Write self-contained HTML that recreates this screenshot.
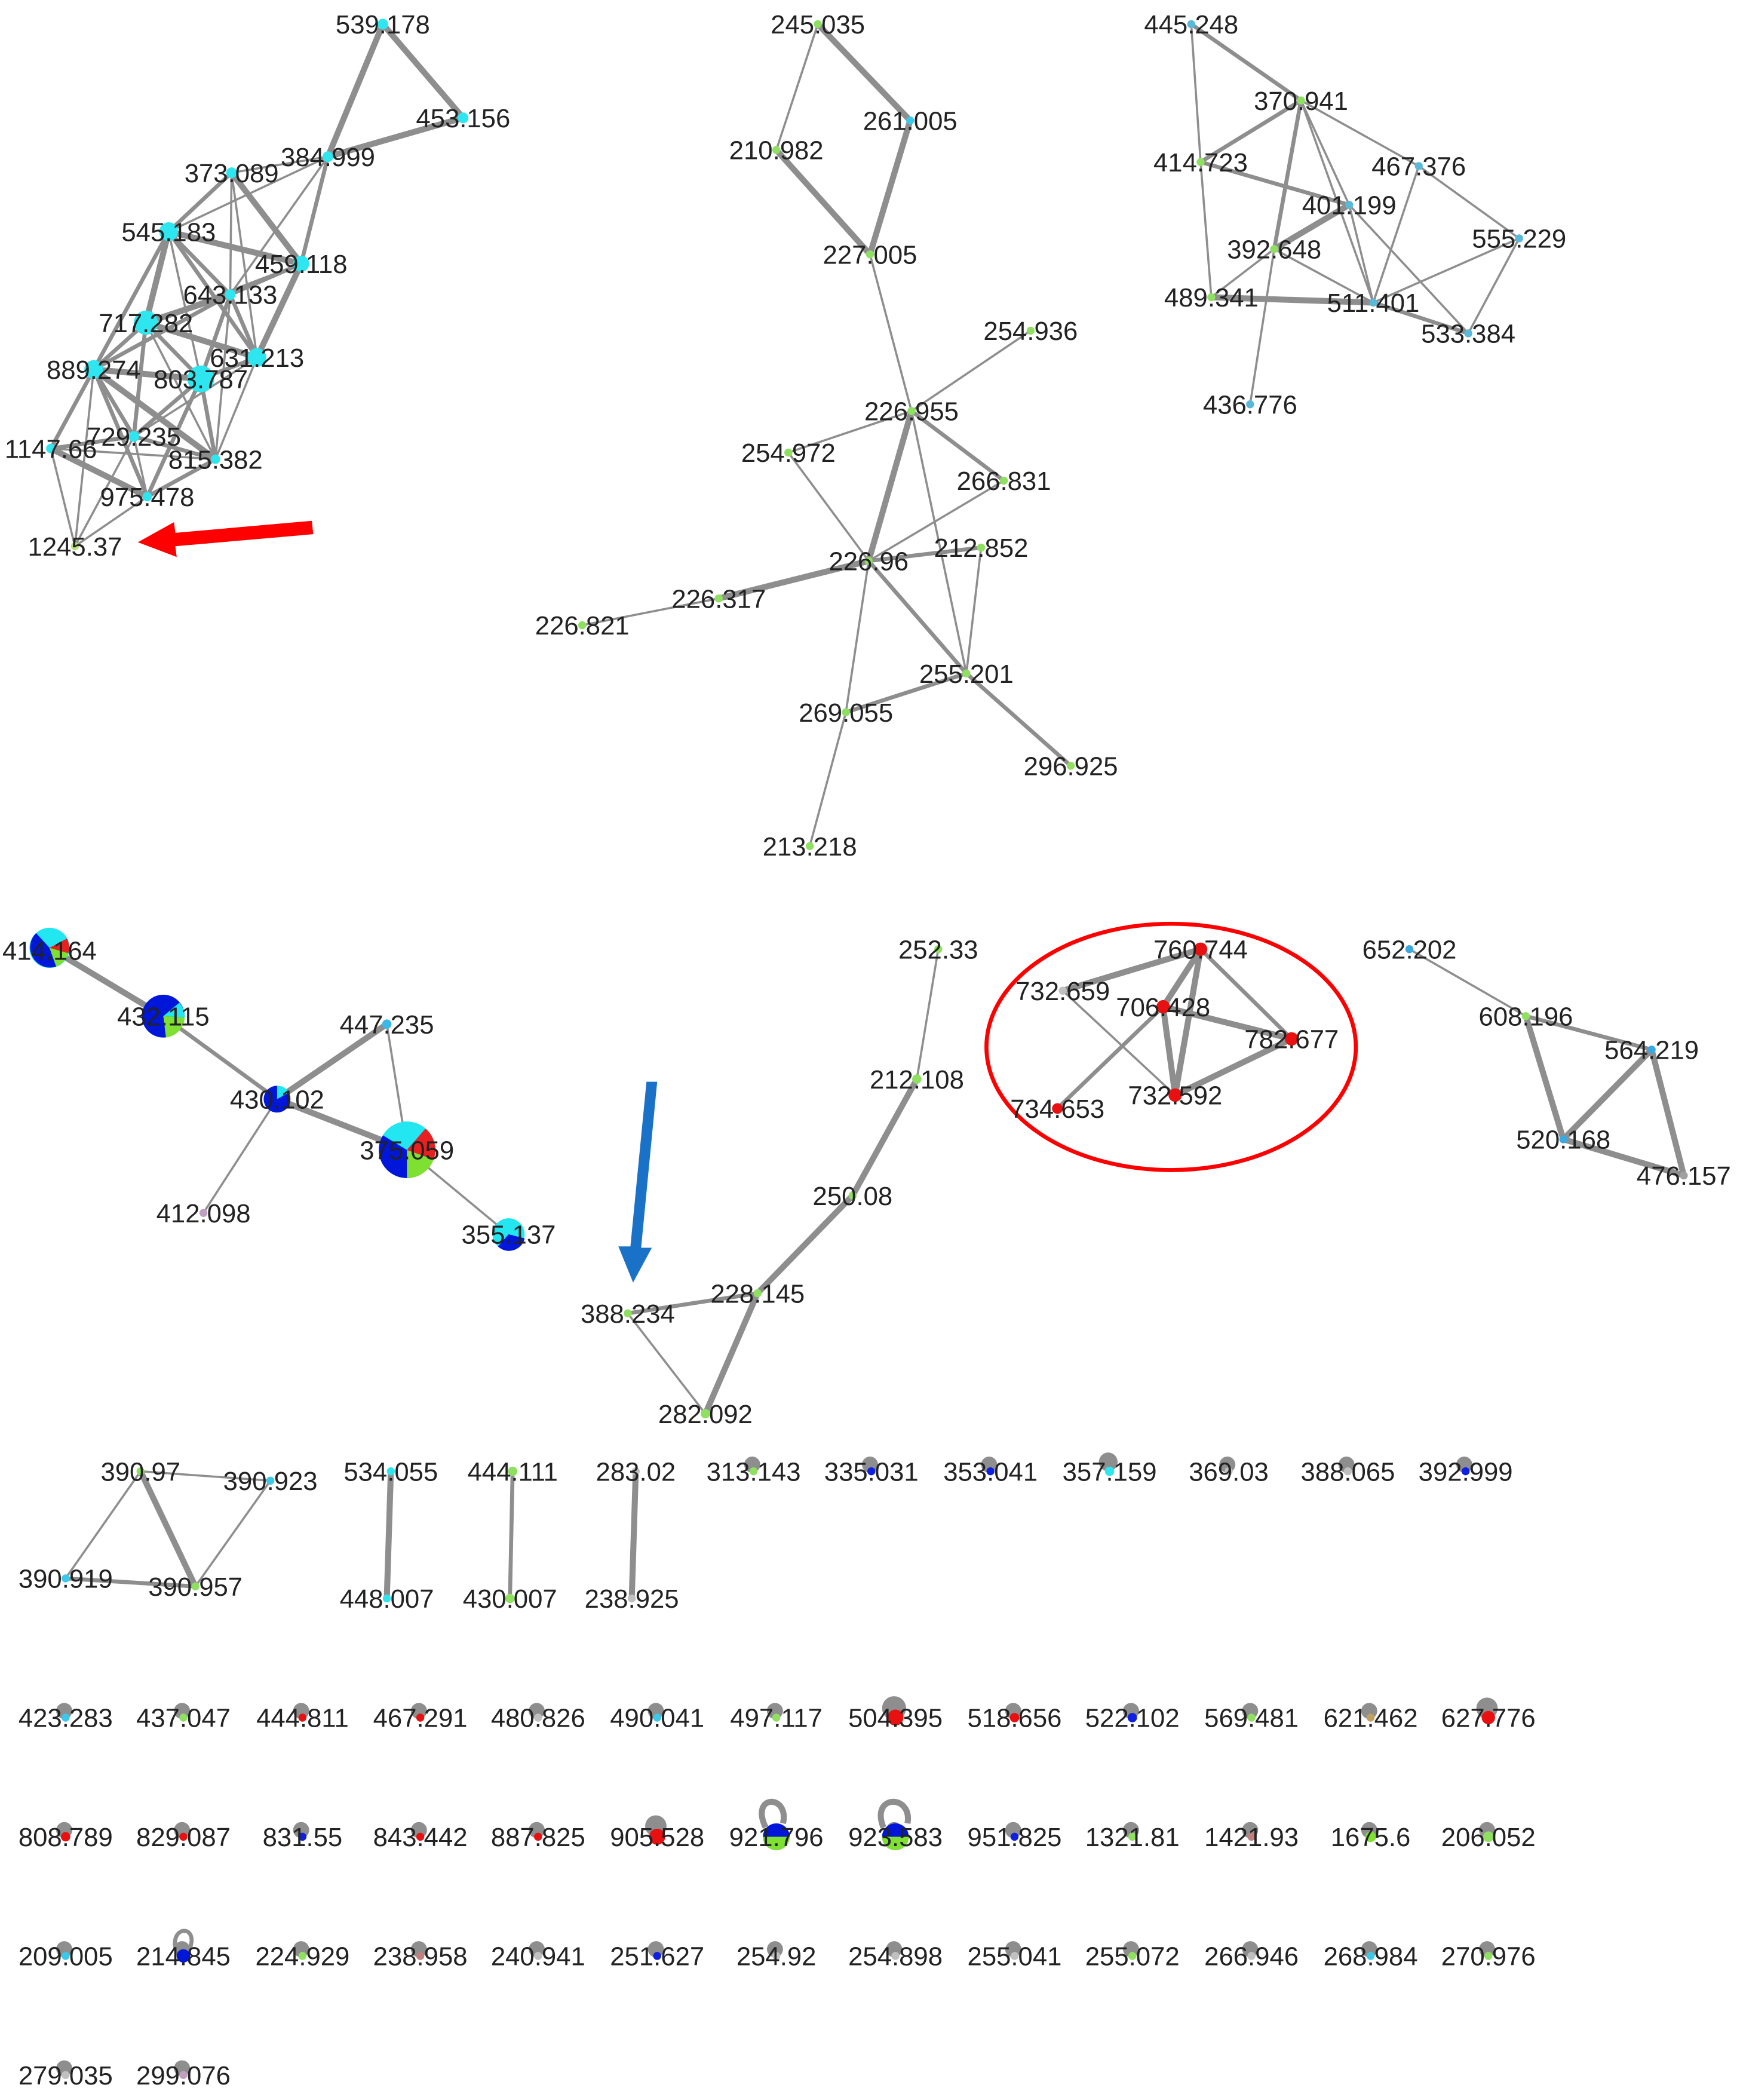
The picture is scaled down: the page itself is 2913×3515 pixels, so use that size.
<!DOCTYPE html>
<html><head><meta charset="utf-8"><style>
html,body{margin:0;padding:0;background:#fff;}
svg{display:block}
text{font-family:"Liberation Sans",Arial,sans-serif;font-size:19.5px;fill:#222;text-anchor:middle}
.e{stroke:#8e8e8e;stroke-width:1.6;fill:none}
.t{stroke:#8e8e8e;stroke-width:4.5;fill:none}
.m{stroke:#8e8e8e;stroke-width:3;fill:none}
.l{fill:#8e8e8e}
</style></head><body>
<svg width="2913" height="3515" viewBox="0 0 1300 1568.6" xmlns="http://www.w3.org/2000/svg">
<!-- cluster 1 edges -->
<g>
<line class="t" x1="286" y1="18" x2="346" y2="88"/><line class="t" x1="286" y1="18" x2="245" y2="117"/><line class="t" x1="346" y1="88" x2="245" y2="117"/>
<line class="e" x1="245" y1="117" x2="173" y2="129"/><line class="m" x1="245" y1="117" x2="225" y2="197"/><line class="e" x1="245" y1="117" x2="172" y2="220"/><line class="e" x1="245" y1="117" x2="126" y2="173"/>
<line class="m" x1="173" y1="129" x2="126" y2="173"/><line class="t" x1="173" y1="129" x2="225" y2="197"/><line class="e" x1="173" y1="129" x2="172" y2="220"/><line class="e" x1="173" y1="129" x2="192" y2="267"/>
<line class="t" x1="126" y1="173" x2="225" y2="197"/><line class="m" x1="126" y1="173" x2="172" y2="220"/><line class="t" x1="126" y1="173" x2="109" y2="241"/><line class="m" x1="126" y1="173" x2="70" y2="276"/><line class="e" x1="126" y1="173" x2="150" y2="283"/><line class="m" x1="126" y1="173" x2="192" y2="267"/>
<line class="m" x1="225" y1="197" x2="172" y2="220"/><line class="t" x1="225" y1="197" x2="192" y2="267"/><line class="e" x1="225" y1="197" x2="109" y2="241"/>
<line class="t" x1="172" y1="220" x2="109" y2="241"/><line class="m" x1="172" y1="220" x2="70" y2="276"/><line class="m" x1="172" y1="220" x2="150" y2="283"/><line class="m" x1="172" y1="220" x2="192" y2="267"/><line class="e" x1="172" y1="220" x2="161" y2="343"/>
<line class="m" x1="109" y1="241" x2="70" y2="276"/><line class="m" x1="109" y1="241" x2="150" y2="283"/><line class="m" x1="109" y1="241" x2="100" y2="326"/><line class="t" x1="109" y1="241" x2="192" y2="267"/><line class="e" x1="109" y1="241" x2="161" y2="343"/>
<line class="t" x1="70" y1="276" x2="150" y2="283"/><line class="m" x1="70" y1="276" x2="100" y2="326"/><line class="m" x1="70" y1="276" x2="38" y2="335"/><line class="t" x1="70" y1="276" x2="161" y2="343"/><line class="m" x1="70" y1="276" x2="110" y2="371"/>
<line class="m" x1="150" y1="283" x2="192" y2="267"/><line class="m" x1="150" y1="283" x2="100" y2="326"/><line class="m" x1="150" y1="283" x2="161" y2="343"/><line class="m" x1="150" y1="283" x2="110" y2="371"/>
<line class="e" x1="192" y1="267" x2="161" y2="343"/><line class="e" x1="192" y1="267" x2="100" y2="326"/>
<line class="m" x1="100" y1="326" x2="38" y2="335"/><line class="m" x1="100" y1="326" x2="161" y2="343"/><line class="e" x1="100" y1="326" x2="110" y2="371"/>
<line class="e" x1="38" y1="335" x2="161" y2="343"/><line class="t" x1="38" y1="335" x2="110" y2="371"/><line class="e" x1="38" y1="335" x2="56" y2="408"/>
<line class="m" x1="161" y1="343" x2="110" y2="371"/><line class="e" x1="110" y1="371" x2="56" y2="408"/><line class="e" x1="100" y1="326" x2="56" y2="408"/><line class="e" x1="70" y1="276" x2="56" y2="408"/>
</g>
<g fill="#2ee6f0">
<circle cx="286" cy="18" r="4"/><circle cx="346" cy="88" r="4"/><circle cx="245" cy="117" r="4"/><circle cx="173" cy="129" r="4"/><circle cx="126" cy="173" r="7"/><circle cx="225" cy="197" r="6"/><circle cx="172" cy="220" r="4"/><circle cx="109" cy="241" r="9"/><circle cx="192" cy="267" r="7"/><circle cx="70" cy="276" r="7"/><circle cx="150" cy="283" r="10"/><circle cx="100" cy="326" r="4"/><circle cx="38" cy="335" r="3.5"/><circle cx="161" cy="343" r="3.5"/><circle cx="110" cy="371" r="3.5"/>
</g><circle cx="56" cy="408" r="3" fill="#b8e080"/>
<text x="286" y="25">539.178</text><text x="346" y="95">453.156</text><text x="245" y="124">384.999</text><text x="173" y="136">373.089</text><text x="126" y="180">545.183</text><text x="225" y="204">459.118</text><text x="172" y="227">643.133</text><text x="109" y="248">717.282</text><text x="192" y="274">631.213</text><text x="70" y="283">889.274</text><text x="150" y="290">803.787</text><text x="100" y="333">729.235</text><text x="38" y="342">1147.66</text><text x="161" y="350">815.382</text><text x="110" y="378">975.478</text><text x="56" y="415">1245.37</text>
<polygon points="233,389 131,398 130,390 103,405 132,416 131,408 234,399" fill="#f00"/>

<!-- cluster 2 -->
<g>
<line class="t" x1="611" y1="18" x2="680" y2="90"/><line class="e" x1="611" y1="18" x2="580" y2="112"/><line class="t" x1="580" y1="112" x2="650" y2="190"/><line class="t" x1="680" y1="90" x2="650" y2="190"/>
<line class="e" x1="650" y1="190" x2="681" y2="307"/><line class="e" x1="681" y1="307" x2="770" y2="247"/><line class="e" x1="681" y1="307" x2="589" y2="338"/><line class="m" x1="681" y1="307" x2="750" y2="359"/><line class="t" x1="681" y1="307" x2="649" y2="419"/><line class="e" x1="681" y1="307" x2="722" y2="503"/>
<line class="e" x1="589" y1="338" x2="649" y2="419"/><line class="e" x1="750" y1="359" x2="649" y2="419"/><line class="m" x1="649" y1="419" x2="733" y2="409"/><line class="e" x1="733" y1="409" x2="722" y2="503"/><line class="t" x1="649" y1="419" x2="537" y2="447"/><line class="e" x1="537" y1="447" x2="435" y2="467"/><line class="e" x1="649" y1="419" x2="632" y2="532"/><line class="m" x1="649" y1="419" x2="722" y2="503"/><line class="m" x1="722" y1="503" x2="632" y2="532"/><line class="m" x1="722" y1="503" x2="800" y2="572"/><line class="e" x1="632" y1="532" x2="605" y2="632"/>
</g>
<g fill="#8fe060"><circle cx="611" cy="18" r="3"/><circle cx="680" cy="90" r="3" fill="#3cc8e8"/><circle cx="580" cy="112" r="3"/><circle cx="650" cy="190" r="3"/><circle cx="770" cy="247" r="3"/><circle cx="681" cy="307" r="3"/><circle cx="589" cy="338" r="3"/><circle cx="750" cy="359" r="3"/><circle cx="733" cy="409" r="3"/><circle cx="649" cy="419" r="3"/><circle cx="537" cy="447" r="3"/><circle cx="435" cy="467" r="3"/><circle cx="722" cy="503" r="3"/><circle cx="632" cy="532" r="3"/><circle cx="800" cy="572" r="3"/><circle cx="605" cy="632" r="3"/></g>
<text x="611" y="25">245.035</text><text x="680" y="97">261.005</text><text x="580" y="119">210.982</text><text x="650" y="197">227.005</text><text x="770" y="254">254.936</text><text x="681" y="314">226.955</text><text x="589" y="345">254.972</text><text x="750" y="366">266.831</text><text x="733" y="416">212.852</text><text x="649" y="426">226.96</text><text x="537" y="454">226.317</text><text x="435" y="474">226.821</text><text x="722" y="510">255.201</text><text x="632" y="539">269.055</text><text x="800" y="579">296.925</text><text x="605" y="639">213.218</text>

<!-- cluster 3 -->
<g>
<line class="m" x1="890" y1="18" x2="972" y2="75"/><line class="e" x1="890" y1="18" x2="897" y2="121"/><line class="m" x1="972" y1="75" x2="897" y2="121"/><line class="e" x1="972" y1="75" x2="1060" y2="124"/><line class="e" x1="972" y1="75" x2="1008" y2="153"/><line class="m" x1="972" y1="75" x2="952" y2="186"/><line class="e" x1="972" y1="75" x2="1026" y2="226"/>
<line class="e" x1="897" y1="121" x2="905" y2="222"/><line class="m" x1="897" y1="121" x2="1008" y2="153"/><line class="t" x1="952" y1="186" x2="1008" y2="153"/><line class="e" x1="952" y1="186" x2="905" y2="222"/><line class="e" x1="1008" y1="153" x2="1026" y2="226"/><line class="e" x1="1008" y1="153" x2="1097" y2="249"/><line class="e" x1="1060" y1="124" x2="1135" y2="178"/><line class="e" x1="1060" y1="124" x2="1026" y2="226"/><line class="e" x1="1135" y1="178" x2="1026" y2="226"/><line class="e" x1="1135" y1="178" x2="1097" y2="249"/><line class="t" x1="905" y1="222" x2="1026" y2="226"/><line class="m" x1="1026" y1="226" x2="1097" y2="249"/><line class="e" x1="952" y1="186" x2="934" y2="302"/><line class="e" x1="952" y1="186" x2="1026" y2="226"/>
</g>
<g fill="#5ab8d8"><circle cx="890" cy="18" r="3"/><circle cx="972" cy="75" r="3" fill="#8fe060"/><circle cx="897" cy="121" r="3" fill="#8fe060"/><circle cx="1060" cy="124" r="3"/><circle cx="1008" cy="153" r="3"/><circle cx="952" cy="186" r="3" fill="#8fe060"/><circle cx="1135" cy="178" r="3"/><circle cx="905" cy="222" r="3" fill="#8fe060"/><circle cx="1026" cy="226" r="3"/><circle cx="1097" cy="249" r="3"/><circle cx="934" cy="302" r="3"/></g>
<text x="890" y="25">445.248</text><text x="972" y="82">370.941</text><text x="897" y="128">414.723</text><text x="1060" y="131">467.376</text><text x="1008" y="160">401.199</text><text x="952" y="193">392.648</text><text x="1135" y="185">555.229</text><text x="905" y="229">489.341</text><text x="1026" y="233">511.401</text><text x="1097" y="256">533.384</text><text x="934" y="309">436.776</text>

<!-- cluster 4 -->
<g>
<line class="t" x1="37" y1="708" x2="122" y2="759"/><line class="m" x1="122" y1="759" x2="207" y2="821"/><line class="t" x1="207" y1="821" x2="289" y2="765"/><line class="e" x1="289" y1="765" x2="304" y2="859"/><line class="t" x1="207" y1="821" x2="304" y2="859"/><line class="e" x1="207" y1="821" x2="152" y2="906"/><line class="e" x1="304" y1="859" x2="380" y2="922"/>
</g>
<g>
<circle cx="37" cy="708" r="15" fill="#22e6f0"/><path d="M37 708 L27 697 A15 15 0 0 0 42 722 Z" fill="#0016d8"/><path d="M37 708 L42 722 A15 15 0 0 0 51 712 Z" fill="#7ee030"/><path d="M37 708 L51 712 A15 15 0 0 0 50 701 Z" fill="#e82020"/>
<circle cx="122" cy="759" r="16" fill="#0016d8"/><path d="M122 759 L134 749 A16 16 0 0 1 138 760 Z" fill="#22e6f0"/><path d="M122 759 L138 760 A16 16 0 0 1 124 775 Z" fill="#7ee030"/>
<circle cx="207" cy="821" r="10" fill="#0016d8"/><path d="M207 821 L207 811 A10 10 0 0 1 216 816 Z" fill="#22e6f0"/>
<circle cx="289" cy="765" r="3.5" fill="#3cb8e8"/>
<circle cx="304" cy="859" r="21" fill="#0016d8"/><path d="M304 859 L286 848 A21 21 0 0 1 318 843 Z" fill="#22e6f0"/><path d="M304 859 L318 843 A21 21 0 0 1 324 866 Z" fill="#e82020"/><path d="M304 859 L324 866 A21 21 0 0 1 304 880 Z" fill="#7ee030"/>
<circle cx="152" cy="906" r="3" fill="#c0a0c0"/>
<circle cx="380" cy="922" r="12" fill="#22e6f0"/><path d="M380 922 L372 931 A12 12 0 0 0 392 925 Z" fill="#0016d8"/>
</g>
<text x="37" y="717">414.164</text><text x="122" y="766">432.115</text><text x="207" y="828">430.102</text><text x="289" y="772">447.235</text><text x="304" y="866">375.059</text><text x="152" y="913">412.098</text><text x="380" y="929">355.137</text>

<!-- cluster 5 -->
<g>
<line class="e" x1="701" y1="709" x2="685" y2="806"/><line class="t" x1="685" y1="806" x2="637" y2="893"/><line class="t" x1="637" y1="893" x2="566" y2="966"/><line class="m" x1="566" y1="966" x2="469" y2="981"/><line class="e" x1="469" y1="981" x2="527" y2="1056"/><line class="t" x1="566" y1="966" x2="527" y2="1056"/>
</g>
<g fill="#8fe060"><circle cx="701" cy="709" r="3"/><circle cx="685" cy="806" r="3.5"/><circle cx="637" cy="893" r="3"/><circle cx="566" cy="966" r="3"/><circle cx="469" cy="981" r="3"/><circle cx="527" cy="1056" r="3.5"/></g>
<text x="701" y="716">252.33</text><text x="685" y="813">212.108</text><text x="637" y="900">250.08</text><text x="566" y="973">228.145</text><text x="469" y="988">388.234</text><text x="527" y="1063">282.092</text>
<polygon points="483,808 491,808 479,932 487,932 473,958 462,931 471,931" fill="#1a72c8"/>

<!-- cluster 6 -->
<ellipse cx="875" cy="782" rx="138" ry="92" fill="none" stroke="#f00" stroke-width="3"/>
<g>
<line class="t" x1="897" y1="709" x2="794" y2="740"/><line class="t" x1="897" y1="709" x2="869" y2="752"/><line class="t" x1="897" y1="709" x2="878" y2="818"/><line class="m" x1="897" y1="709" x2="965" y2="776"/><line class="e" x1="794" y1="740" x2="878" y2="818"/><line class="t" x1="869" y1="752" x2="965" y2="776"/><line class="t" x1="869" y1="752" x2="878" y2="818"/><line class="m" x1="869" y1="752" x2="790" y2="828"/><line class="t" x1="965" y1="776" x2="878" y2="818"/>
</g>
<g fill="#e81010"><circle cx="897" cy="709" r="5"/><circle cx="794" cy="740" r="3" fill="#c0c0c0"/><circle cx="869" cy="752" r="5"/><circle cx="965" cy="776" r="5"/><circle cx="790" cy="828" r="4"/><circle cx="878" cy="818" r="5"/></g>
<text x="897" y="716">760.744</text><text x="794" y="747">732.659</text><text x="869" y="759">706.428</text><text x="965" y="783">782.677</text><text x="790" y="835">734.653</text><text x="878" y="825">732.592</text>

<!-- cluster 7 -->
<g>
<line class="e" x1="1053" y1="709" x2="1140" y2="759"/><line class="m" x1="1140" y1="759" x2="1234" y2="784"/><line class="t" x1="1140" y1="759" x2="1168" y2="851"/><line class="t" x1="1234" y1="784" x2="1168" y2="851"/><line class="t" x1="1234" y1="784" x2="1258" y2="878"/><line class="t" x1="1168" y1="851" x2="1258" y2="878"/>
</g>
<g fill="#3ca8e0"><circle cx="1053" cy="709" r="3"/><circle cx="1140" cy="759" r="3" fill="#8fe060"/><circle cx="1234" cy="784" r="3"/><circle cx="1168" cy="851" r="3"/><circle cx="1258" cy="878" r="3" fill="#a0a0a0"/></g>
<text x="1053" y="716">652.202</text><text x="1140" y="766">608.196</text><text x="1234" y="791">564.219</text><text x="1168" y="858">520.168</text><text x="1258" y="885">476.157</text>

<!-- small groups -->
<g>
<line class="e" x1="105" y1="1099" x2="202" y2="1106"/><line class="t" x1="105" y1="1099" x2="146" y2="1185"/><line class="e" x1="202" y1="1106" x2="146" y2="1185"/><line class="m" x1="49" y1="1179" x2="146" y2="1185"/><line class="e" x1="105" y1="1099" x2="49" y2="1179"/>
<line class="t" x1="292" y1="1099" x2="289" y2="1194"/><line class="m" x1="383" y1="1099" x2="381" y2="1194"/><line class="t" x1="475" y1="1099" x2="472" y2="1194"/>
</g>
<g fill="#8fe060"><circle cx="105" cy="1099" r="3"/><circle cx="202" cy="1106" r="3" fill="#3cc8e8"/><circle cx="49" cy="1179" r="3" fill="#3cc8e8"/><circle cx="146" cy="1185" r="3"/><circle cx="292" cy="1099" r="3" fill="#2ee6f0"/><circle cx="289" cy="1194" r="3" fill="#2ee6f0"/><circle cx="383" cy="1099" r="3.5"/><circle cx="381" cy="1194" r="3.5"/><circle cx="475" cy="1099" r="3" fill="#c0c0c0"/><circle cx="472" cy="1194" r="3" fill="#c0c0c0"/></g>
<text x="105" y="1106">390.97</text><text x="202" y="1113">390.923</text><text x="49" y="1186">390.919</text><text x="146" y="1192">390.957</text><text x="292" y="1106">534.055</text><text x="289" y="1201">448.007</text><text x="383" y="1106">444.111</text><text x="381" y="1201">430.007</text><text x="475" y="1106">283.02</text><text x="472" y="1201">238.925</text>

<!-- singletons with self-loops -->
<g class="l">
<circle cx="562" cy="1094" r="6"/><circle cx="650" cy="1094" r="6"/><circle cx="739" cy="1094" r="6"/><circle cx="828" cy="1092" r="7"/><circle cx="917" cy="1094" r="6"/><circle cx="1006" cy="1094" r="6"/><circle cx="1094" cy="1094" r="6"/>
<circle cx="48" cy="1278" r="6"/><circle cx="136" cy="1278" r="6"/><circle cx="225" cy="1278" r="6"/><circle cx="313" cy="1278" r="6"/><circle cx="401" cy="1278" r="6"/><circle cx="490" cy="1278" r="6"/><circle cx="579" cy="1278" r="6"/><circle cx="668" cy="1276" r="9"/><circle cx="757" cy="1278" r="6"/><circle cx="845" cy="1278" r="6"/><circle cx="934" cy="1278" r="6"/><circle cx="1023" cy="1278" r="6"/><circle cx="1111" cy="1276" r="8"/>
<circle cx="48" cy="1367" r="6"/><circle cx="136" cy="1367" r="6"/><circle cx="225" cy="1367" r="6"/><circle cx="313" cy="1367" r="6"/><circle cx="401" cy="1367" r="6"/><circle cx="490" cy="1364" r="8"/><circle cx="668" cy="1367" r="6"/><circle cx="757" cy="1367" r="6"/><circle cx="845" cy="1367" r="6"/><circle cx="934" cy="1367" r="6"/><circle cx="1023" cy="1367" r="6"/><circle cx="1111" cy="1367" r="6"/>
<circle cx="48" cy="1456" r="6"/><circle cx="136" cy="1456" r="6"/><circle cx="225" cy="1456" r="6"/><circle cx="313" cy="1456" r="6"/><circle cx="401" cy="1456" r="6"/><circle cx="490" cy="1456" r="6"/><circle cx="579" cy="1456" r="6"/><circle cx="668" cy="1456" r="6"/><circle cx="757" cy="1456" r="6"/><circle cx="845" cy="1456" r="6"/><circle cx="934" cy="1456" r="6"/><circle cx="1023" cy="1456" r="6"/><circle cx="1111" cy="1456" r="6"/>
<circle cx="48" cy="1545" r="6"/><circle cx="136" cy="1545" r="6"/>
</g>
<path d="M572 1365 C560 1340 590 1340 585 1362" class="t"/><path d="M660 1365 C650 1340 682 1340 678 1362" class="t"/><path d="M131 1455 C128 1438 148 1438 142 1455" class="m"/>
<g>
<circle cx="563" cy="1099" r="3" fill="#8fe060"/><circle cx="651" cy="1099" r="3" fill="#1020e0"/><circle cx="740" cy="1099" r="3" fill="#1020e0"/><circle cx="829" cy="1099" r="3.5" fill="#2ee6f0"/><circle cx="918" cy="1099" r="3" fill="#c0c0c0"/><circle cx="1007" cy="1099" r="3" fill="#c0c0c0"/><circle cx="1095" cy="1099" r="3" fill="#1020e0"/>
<circle cx="49" cy="1283" r="3" fill="#3cc8e8"/><circle cx="137" cy="1283" r="3" fill="#8fe060"/><circle cx="226" cy="1283" r="3" fill="#e81010"/><circle cx="314" cy="1283" r="3" fill="#e81010"/><circle cx="402" cy="1283" r="3" fill="#c0c0c0"/><circle cx="491" cy="1283" r="3" fill="#3cc8e8"/><circle cx="580" cy="1283" r="3" fill="#8fe060"/><circle cx="669" cy="1283" r="6" fill="#e81010"/><circle cx="758" cy="1283" r="3.5" fill="#e81010"/><circle cx="846" cy="1283" r="3.5" fill="#1020e0"/><circle cx="935" cy="1283" r="3" fill="#8fe060"/><circle cx="1024" cy="1283" r="3" fill="#c0a060"/><circle cx="1112" cy="1283" r="5" fill="#e81010"/>
<circle cx="49" cy="1372" r="3.5" fill="#e81010"/><circle cx="137" cy="1372" r="3" fill="#e81010"/><circle cx="226" cy="1372" r="3" fill="#1020e0"/><circle cx="314" cy="1372" r="3" fill="#e81010"/><circle cx="402" cy="1372" r="3" fill="#e81010"/><circle cx="491" cy="1372" r="6" fill="#e81010"/>
<circle cx="580" cy="1372" r="10" fill="#0016d8"/><path d="M570 1372 A10 10 0 0 0 590 1372 Z" fill="#7ee030"/>
<circle cx="669" cy="1372" r="10" fill="#0016d8"/><path d="M659 1372 A10 10 0 0 0 679 1372 Z" fill="#7ee030"/>
<circle cx="758" cy="1372" r="3" fill="#1020e0"/><circle cx="846" cy="1372" r="3" fill="#8fe060"/><circle cx="935" cy="1372" r="3" fill="#c08080"/><circle cx="1024" cy="1372" r="4" fill="#7ee030"/><circle cx="1112" cy="1372" r="4" fill="#8fe060"/>
<circle cx="49" cy="1461" r="3" fill="#3cc8e8"/><circle cx="137" cy="1461" r="5" fill="#0016d8"/><circle cx="226" cy="1461" r="3" fill="#8fe060"/><circle cx="314" cy="1461" r="3" fill="#c08080"/><circle cx="402" cy="1461" r="3" fill="#c0c0c0"/><circle cx="491" cy="1461" r="3" fill="#1020e0"/><circle cx="580" cy="1461" r="3" fill="#c0c0c0"/><circle cx="669" cy="1461" r="3" fill="#c0c0c0"/><circle cx="758" cy="1461" r="3" fill="#c0c0c0"/><circle cx="846" cy="1461" r="3" fill="#8fe060"/><circle cx="935" cy="1461" r="3" fill="#c0c0c0"/><circle cx="1024" cy="1461" r="3" fill="#3cc8e8"/><circle cx="1112" cy="1461" r="3" fill="#8fe060"/>
<circle cx="49" cy="1550" r="3" fill="#c0c0c0"/><circle cx="137" cy="1550" r="3" fill="#c0a0c0"/>
</g>
<text x="563" y="1106">313.143</text><text x="651" y="1106">335.031</text><text x="740" y="1106">353.041</text><text x="829" y="1106">357.159</text><text x="918" y="1106">369.03</text><text x="1007" y="1106">388.065</text><text x="1095" y="1106">392.999</text>
<text x="49" y="1290">423.283</text><text x="137" y="1290">437.047</text><text x="226" y="1290">444.811</text><text x="314" y="1290">467.291</text><text x="402" y="1290">480.826</text><text x="491" y="1290">490.041</text><text x="580" y="1290">497.117</text><text x="669" y="1290">504.395</text><text x="758" y="1290">518.656</text><text x="846" y="1290">522.102</text><text x="935" y="1290">569.481</text><text x="1024" y="1290">621.462</text><text x="1112" y="1290">627.776</text>
<text x="49" y="1379">808.789</text><text x="137" y="1379">829.087</text><text x="226" y="1379">831.55</text><text x="314" y="1379">843.442</text><text x="402" y="1379">887.825</text><text x="491" y="1379">905.528</text><text x="580" y="1379">921.796</text><text x="669" y="1379">923.583</text><text x="758" y="1379">951.825</text><text x="846" y="1379">1321.81</text><text x="935" y="1379">1421.93</text><text x="1024" y="1379">1675.6</text><text x="1112" y="1379">206.052</text>
<text x="49" y="1468">209.005</text><text x="137" y="1468">214.845</text><text x="226" y="1468">224.929</text><text x="314" y="1468">238.958</text><text x="402" y="1468">240.941</text><text x="491" y="1468">251.627</text><text x="580" y="1468">254.92</text><text x="669" y="1468">254.898</text><text x="758" y="1468">255.041</text><text x="846" y="1468">255.072</text><text x="935" y="1468">266.946</text><text x="1024" y="1468">268.984</text><text x="1112" y="1468">270.976</text>
<text x="49" y="1557">279.035</text><text x="137" y="1557">299.076</text>
</svg>
</body></html>
